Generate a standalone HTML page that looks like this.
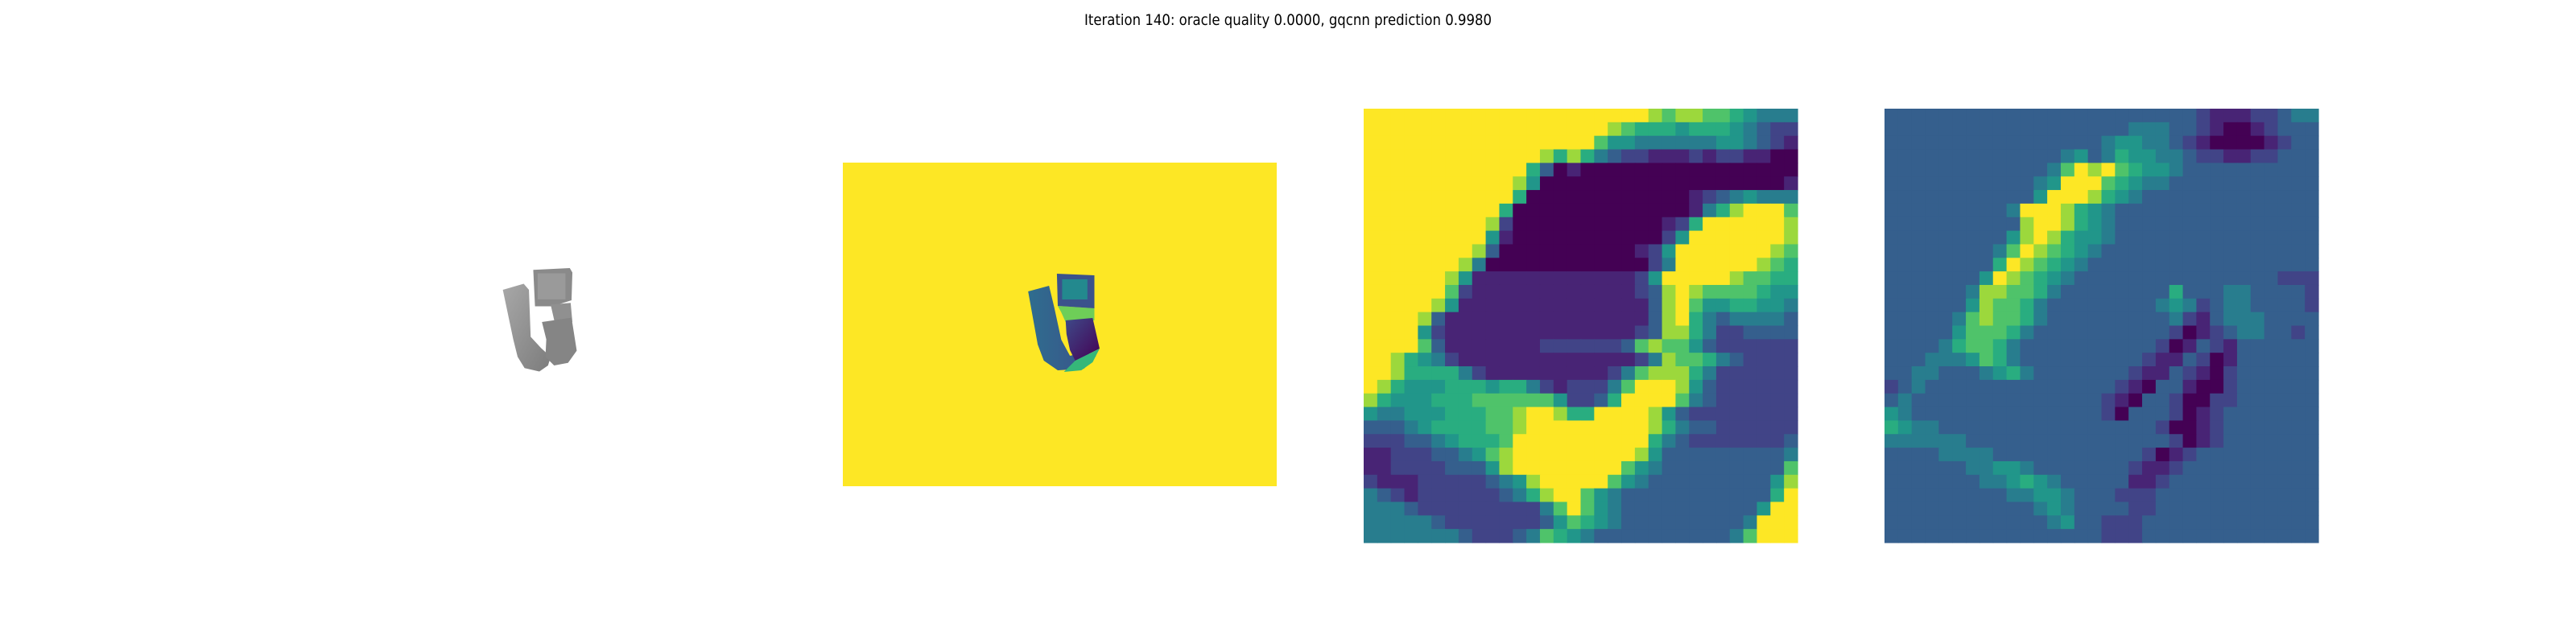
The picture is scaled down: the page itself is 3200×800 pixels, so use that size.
<!DOCTYPE html>
<html><head><meta charset="utf-8"><title>Iteration 140</title>
<style>html,body{margin:0;padding:0;background:#fff;}svg{display:block;}</style></head>
<body>
<svg id="fig" width="3200" height="800" xmlns="http://www.w3.org/2000/svg">
<rect width="3200" height="800" fill="#fff"/>
<text x="1600" y="31" text-anchor="middle" font-family="DejaVu Sans, Liberation Sans, sans-serif" font-size="19" textLength="506" lengthAdjust="spacingAndGlyphs" fill="#000">Iteration 140: oracle quality 0.0000, gqcnn prediction 0.9980</text>

<g transform="translate(670,400) scale(1.08) translate(-670,-400)">
  <defs>
    <linearGradient id="gl" x1="0" y1="0" x2="1" y2="1"><stop offset="0" stop-color="#a8a8a8"/><stop offset="1" stop-color="#7c7c7c"/></linearGradient>
    <linearGradient id="dl" x1="0" y1="0" x2="1" y2="0"><stop offset="0" stop-color="#2f6d8e"/><stop offset="1" stop-color="#3b528b"/></linearGradient>
    <linearGradient id="dr" x1="0" y1="0" x2="1" y2="1"><stop offset="0" stop-color="#3e4a89"/><stop offset="1" stop-color="#440154"/></linearGradient>
  </defs>
  <polygon points="628,363 652,356 658,363 660,417 672,430 683,440 680,450 670,457 653,453 645,440 640,420" fill="url(#gl)"/>
  <polygon points="663,340 705,338 708,343 707,375 685,382 665,382" fill="#8a8a8a"/>
  <rect x="668" y="344" width="32" height="30" fill="#9a9a9a"/>
  <polygon points="683,380 706,378 708,400 688,402" fill="#909090"/>
  <polygon points="673,400 707,395 713,433 703,447 687,450 677,440 678,420" fill="#858585"/>
</g>

<g>
  <rect x="1047" y="202" width="539" height="402" fill="#fde725"/>
  <g transform="translate(1040,0) scale(1.083,1) translate(-1040,0)">
  <polygon points="1259,362 1283,355 1289,382 1297,422 1307,442 1323,438 1337,442 1323,458 1293,460 1277,448 1270,428" fill="url(#dl)"/>
  <polygon points="1293,380 1335,383 1335,398 1302,400 1297,388" fill="#6ece58"/>
  <polygon points="1292,340 1335,342 1335,383 1293,380" fill="#3b528b"/>
  <rect x="1298" y="347" width="29" height="25" fill="#23898e"/>
  <polygon points="1302,398 1333,395 1341,433 1313,448 1307,435 1303,415" fill="url(#dr)"/>
  <polygon points="1313,448 1341,433 1333,450 1320,460 1300,462" fill="#35b779"/>
  </g>
</g>

<g id="hm1"></g>
<g id="hm2"></g>
</svg>
<script>
const cropRows = [
"99999999999999999999987887765444",
"99999999999999999987666566654322",
"99999999999999999755444444554321",
"99999999999998686432211121221100",
"99999999999963010000000000000000",
"99999999999850000000000000000001",
"99999999999600000000000012345444",
"99999999996000000000000014689997",
"99999999982000000000001269999998",
"99999999951000000000002599999998",
"99999999830000000000125999999987",
"99999998400000000000024999999876",
"99999985111111111111259999987766",
"99999972111111111111238987777655",
"99999851111111111111138975566554",
"99998311111111111111138964344443",
"99995211111111111111238864223333",
"99997311111112222223787753222222",
"99865421111111111111248776432222",
"99866664211111111124788864222222",
"98655566656642122247999853222222",
"86555666777777522369999743222222",
"54455566677899866999985322222222",
"33345666677899999999986433222222",
"22233456667999999999964322222223",
"11222334578999999999853333333334",
"11222233358999999997543333333337",
"21112222234589999975433333333358",
"43212222223468997543333333333369",
"44432222222224797543333333333599",
"44444322222223576543333333334999",
"44444443222347654333333333347999"
];
const featRows = [
"33333333333333333333333211122344",
"33333333333333333344433210012333",
"33333333333333334554432100001233",
"33333333333334534655443221122333",
"33333333333347989765543333333333",
"33333333333459997654433333333333",
"33333333333599986543333333333333",
"33333333349998654333333333333333",
"33333333338998654333333333333333",
"33333333358986554333333333333333",
"33333333479876543333333333333333",
"33333333698765433333333333333333",
"33333335987654333333333333333222",
"33333348877643333333363334433332",
"33333358776433333333454234433332",
"33333478776433333333342134443333",
"33333577764333333333320123443323",
"33334677643333333333201321333333",
"33344457643333333332113201333333",
"33443334564333333321132102333333",
"23433333333333333210331002333333",
"34333333333333332103320022333333",
"54333333333333332033320123333333",
"65443333333333333333200123333333",
"44444433333333333333320123333333",
"33334444333333333332012333333333",
"33333344554333333321123333333333",
"33333334456543333311233333333333",
"33333333344554333222333333333333",
"33333333333454333322333333333333",
"33333333333345332223333333333333",
"33333333333333332223333333333333"
];
const levels = [0,0.1,0.2,0.3,0.42,0.52,0.62,0.72,0.85,1.0];
const viridis = ["#440154","#482475","#414487","#355f8d","#2a788e","#21918c","#22a884","#44bf70","#7ad151","#bddf26","#fde725"];
function hex(c){return [1,3,5].map(i=>parseInt(c.substr(i,2),16));}
function cmap(t){t=Math.max(0,Math.min(1,t));const p=t*10,i=Math.min(9,Math.floor(p)),f=p-i;const a=hex(viridis[i]),b=hex(viridis[i+1]);return 'rgb('+a.map((v,k)=>Math.round(v+(b[k]-v)*f)).join(',')+')';}
function scale(x0,w,n){return c=>x0+c*w/n;}
function draw(gid,rows,x0,y0,w,h,name){
  const g=document.getElementById(gid),n=32,ns='http://www.w3.org/2000/svg';
  const sx=scale(x0,w,n),sy=scale(y0,h,n);
  rows.forEach((row,r)=>{
    for(let c=0;c<n;c++){
      const ch=row[c]!==undefined?row[c]:row[row.length-1];
      const el=document.createElementNS(ns,'rect');
      
      
      el.setAttribute('x',sx(c));el.setAttribute('y',sy(r));
      el.setAttribute('width',w/n+0.6);el.setAttribute('height',h/n+0.6);
      el.setAttribute('fill',cmap(levels[+ch]));
      g.appendChild(el);
    }
  });
}
draw('hm1',cropRows,1694,135,539,539,'depth-crop-cell');
draw('hm2',featRows,2341,135,539,539,'feature-cell');
</script>
</body></html>
